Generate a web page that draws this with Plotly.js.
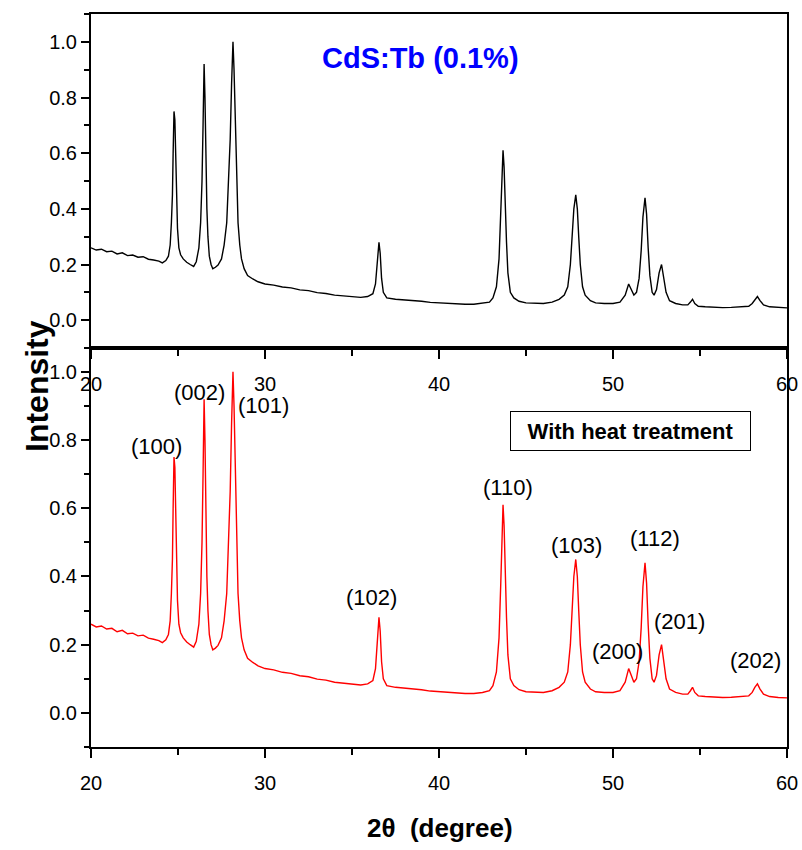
<!DOCTYPE html>
<html>
<head>
<meta charset="utf-8">
<script src="https://cdn.plot.ly/plotly-3.0.1.min.js"></script>
<style>html,body{margin:0;padding:0;background:#fff;}#chart{width:802px;height:850px;}</style>
</head>
<body>
<div id="chart"></div>
<script>
// 2θ (degree) positions
const twoTheta = [
20.0,20.3,20.6,20.9,21.2,21.5,21.8,22.1,22.4,22.7,23.0,23.3,23.6,23.9,24.1,24.3,24.45,24.55,24.62,24.68,24.72,24.77,24.82,24.87,24.92,24.97,25.05,25.15,25.3,25.5,25.7,25.9,26.05,26.2,26.3,26.38,26.44,26.5,26.55,26.6,26.66,26.72,26.8,26.9,27.0,27.15,27.3,27.5,27.65,27.8,27.92,28.0,28.08,28.16,28.22,28.3,28.38,28.45,28.55,28.65,28.8,29.0,29.3,29.6,30.0,30.5,31.0,31.5,32.0,32.5,33.0,33.5,34.0,34.5,35.0,35.5,35.9,36.2,36.35,36.45,36.55,36.62,36.7,36.8,37.0,37.5,38.0,38.5,39.0,39.5,40.0,40.5,41.0,41.5,42.0,42.5,42.9,43.1,43.3,43.45,43.55,43.62,43.68,43.74,43.8,43.88,43.96,44.1,44.3,44.6,45.0,45.5,46.0,46.5,46.9,47.2,47.4,47.55,47.65,47.75,47.86,47.95,48.03,48.12,48.25,48.4,48.7,49.0,49.5,50.0,50.4,50.7,50.9,51.05,51.2,51.35,51.5,51.62,51.72,51.84,51.93,52.02,52.12,52.25,52.36,52.5,52.65,52.79,52.9,53.05,53.25,53.6,54.0,54.3,54.45,54.57,54.7,54.9,55.3,55.8,56.3,56.8,57.3,57.8,58.0,58.15,58.3,58.45,58.65,59.0,59.5,60.0
];
// normalised intensity (same pattern shown in both panels)
const intensity = [
0.26,0.252,0.255,0.246,0.248,0.238,0.242,0.232,0.234,0.226,0.228,0.219,0.216,0.212,0.206,0.214,0.23,0.27,0.35,0.45,0.6,0.75,0.72,0.6,0.45,0.33,0.26,0.235,0.22,0.208,0.2,0.193,0.21,0.26,0.35,0.5,0.7,0.92,0.8,0.6,0.4,0.3,0.23,0.2,0.185,0.19,0.198,0.22,0.27,0.35,0.5,0.65,0.85,1.0,0.9,0.7,0.5,0.35,0.27,0.22,0.185,0.16,0.148,0.138,0.13,0.126,0.119,0.116,0.109,0.106,0.099,0.096,0.09,0.088,0.084,0.082,0.085,0.095,0.13,0.2,0.28,0.24,0.15,0.1,0.08,0.075,0.073,0.069,0.068,0.064,0.062,0.06,0.058,0.057,0.057,0.06,0.065,0.08,0.12,0.22,0.38,0.52,0.61,0.55,0.42,0.28,0.17,0.1,0.08,0.068,0.062,0.06,0.06,0.065,0.075,0.09,0.12,0.2,0.3,0.4,0.45,0.4,0.3,0.2,0.12,0.09,0.07,0.062,0.06,0.06,0.065,0.09,0.13,0.11,0.09,0.1,0.15,0.25,0.37,0.44,0.38,0.26,0.16,0.1,0.09,0.11,0.17,0.2,0.16,0.1,0.07,0.06,0.055,0.055,0.065,0.075,0.06,0.05,0.048,0.046,0.045,0.046,0.047,0.05,0.06,0.075,0.085,0.07,0.055,0.048,0.045,0.044
];
// Miller index labels and where they sit (2θ, intensity)
const peakLabels = ["(100)","(002)","(101)","(102)","(110)","(103)","(112)","(200)","(201)","(202)"];
const labelX = [23.79,26.25,29.9,36.1,43.98,47.91,52.44,50.23,53.81,58.19];
const labelY = [0.78,0.94,0.90,0.337,0.66,0.49,0.51,0.18,0.267,0.155];

const FONT = "Liberation Sans, Arial, Helvetica, sans-serif";

const traces = [
  {x: twoTheta, y: intensity, xaxis: 'x', yaxis: 'y', mode: 'lines',
   line: {color: '#000000', width: 1.4}, hoverinfo: 'skip', showlegend: false},
  {x: twoTheta, y: intensity, xaxis: 'x2', yaxis: 'y2', mode: 'lines',
   line: {color: '#ff0000', width: 1.4}, hoverinfo: 'skip', showlegend: false}
];

const xBase = {
  range: [20, 60], dtick: 10, tick0: 20, showgrid: false, zeroline: false,
  showline: true, linecolor: '#000', linewidth: 2, mirror: true,
  ticks: 'outside', ticklen: 9, tickwidth: 2, tickcolor: '#000',
  ticklabelstandoff: 8,
  minor: {dtick: 5, tick0: 20, ticks: 'outside', ticklen: 6, tickwidth: 2, tickcolor: '#000'},
  tickfont: {family: FONT, size: 20, color: '#000'}
};
const yBase = {
  dtick: 0.2, tick0: 0, tickformat: '.1f', showgrid: false, zeroline: false,
  showline: true, linecolor: '#000', linewidth: 2, mirror: true,
  ticks: 'outside', ticklen: 8, tickwidth: 2, tickcolor: '#000',
  ticklabelstandoff: 0,
  minor: {dtick: 0.1, tick0: 0, ticks: 'outside', ticklen: 5, tickwidth: 2, tickcolor: '#000'},
  tickfont: {family: FONT, size: 20, color: '#000'}
};

const annotations = peakLabels.map((t, i) => ({
  text: t, x: labelX[i], y: labelY[i], xref: 'x2', yref: 'y2',
  xanchor: 'center', yanchor: 'middle',
  showarrow: false, font: {family: FONT, size: 22, color: '#000'}
}));
annotations.push({
  text: '<b>CdS:Tb (0.1%)</b>', x: 420/802, y: 1 - 58/850, xref: 'paper', yref: 'paper',
  xanchor: 'center', yanchor: 'middle',
  showarrow: false, font: {family: FONT, size: 29, color: '#0000ff'}
});
annotations.push({
  text: '<b>With heat treatment</b>', x: 630.5/802, y: 1 - 431/850, xref: 'paper', yref: 'paper',
  xanchor: 'center', yanchor: 'middle',
  showarrow: false, font: {family: FONT, size: 22, color: '#000'},
  bordercolor: '#000', borderwidth: 1, borderpad: 7, width: 225, height: 24, bgcolor: '#fff'
});
annotations.push({
  text: '<b>Intensity</b>', x: 37/802, y: 1 - 386/850, xref: 'paper', yref: 'paper',
  xanchor: 'center', yanchor: 'middle',
  showarrow: false, textangle: -90, font: {family: FONT, size: 32, color: '#000'}
});
annotations.push({
  text: '<b>2θ  (degree)</b>', x: 440/802, y: 1 - 828/850, xref: 'paper', yref: 'paper',
  xanchor: 'center', yanchor: 'middle',
  showarrow: false, font: {family: FONT, size: 26, color: '#000'}
});

const layout = {
  width: 802, height: 850,
  margin: {l: 0, r: 0, t: 0, b: 0},
  paper_bgcolor: '#fff', plot_bgcolor: '#fff',
  showlegend: false,
  xaxis: Object.assign({}, xBase, {domain: [91/802, 787/802], anchor: 'y'}),
  yaxis: Object.assign({}, yBase, {domain: [1 - 348/850, 1 - 14/850], range: [-0.1, 1.1], anchor: 'x'}),
  xaxis2: Object.assign({}, xBase, {domain: [91/802, 787/802], anchor: 'y2'}),
  yaxis2: Object.assign({}, yBase, {domain: [1 - 747/850, 1 - 348/850], range: [-0.1, 1.07], anchor: 'x2'}),
  annotations: annotations
};

Plotly.newPlot('chart', traces, layout, {staticPlot: true, displayModeBar: false});
</script>
</body>
</html>
